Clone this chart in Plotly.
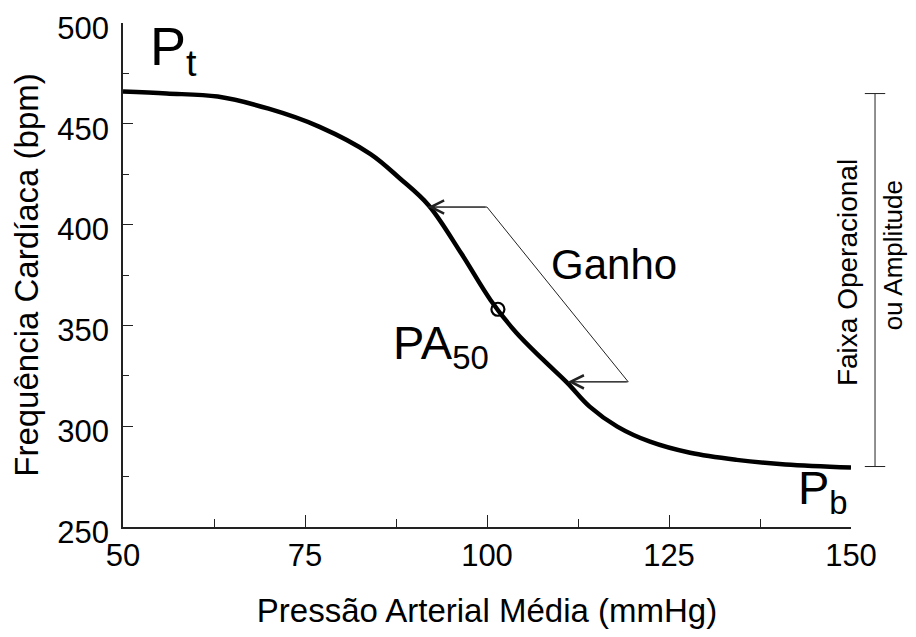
import plotly.graph_objects as go

# ---- data ----
pressure = [50, 56, 63, 70, 77, 84, 88, 92, 96.5, 100.5, 104, 107.7, 111, 114.1, 117.9, 122.4, 127.9, 134.3, 141, 150]
heart_rate = [466, 465, 463.5, 457.5, 448.5, 435, 423, 409.5, 385.5, 362.5, 346.5, 333, 321.6, 309.7, 299.8, 292.3, 286.8, 283.3, 281, 279.5]

pa50_x = [101.5]
pa50_y = [358]

# gain indicator path (arrow tip top -> corner -> corner -> arrow tip bottom)
gain_x = [91.9, 100.0, 119.4, 111.1]
gain_y = [408.7, 408.7, 322.0, 322.0]

# operational range bar
range_x = 153.3
range_y = [280, 465]

x_ticks = [50, 75, 100, 125, 150]
y_ticks = [250, 300, 350, 400, 450, 500]
x_range = [50, 150]
y_range = [250, 500]

FONT = "Liberation Sans, Arial, Helvetica, sans-serif"


def xp(v):
    return (v - x_range[0]) / (x_range[1] - x_range[0])


fig = go.Figure()

fig.add_trace(go.Scatter(
    x=pressure, y=heart_rate, mode="lines",
    line=dict(color="black", width=4.5, shape="spline", smoothing=1.0),
    hoverinfo="skip", showlegend=False))

fig.add_trace(go.Scatter(
    x=gain_x, y=gain_y, mode="lines",
    line=dict(color="#222222", width=1),
    hoverinfo="skip", showlegend=False))

fig.add_trace(go.Scatter(
    x=pa50_x, y=pa50_y, mode="markers",
    marker=dict(symbol="circle-open", size=13, color="black", line=dict(width=2.2)),
    hoverinfo="skip", showlegend=False))

annotations = []
# arrowheads of the gain indicator
for tip_i, base_i in ((0, 1), (3, 2)):
    annotations.append(dict(
        x=gain_x[tip_i], y=gain_y[tip_i], xref="x", yref="y",
        ax=gain_x[base_i], ay=gain_y[base_i], axref="x", ayref="y",
        text="", showarrow=True, arrowhead=5, arrowsize=2.6, arrowwidth=1,
        arrowcolor="#222222"))

annotations += [
    dict(x=53.5, y=500, xref="x", yref="y", xanchor="left", yanchor="top", yshift=9,
         text="P<sub>t</sub>", showarrow=False,
         font=dict(family=FONT, size=54, color="black")),
    dict(x=142.4, y=268, xref="x", yref="y", xanchor="left", yanchor="middle",
         text="P<sub>b</sub>", showarrow=False,
         font=dict(family=FONT, size=47, color="black")),
    dict(x=86.8, y=340, xref="x", yref="y", xanchor="left", yanchor="middle",
         text="PA<sub>50</sub>", showarrow=False,
         font=dict(family=FONT, size=47, color="black")),
    dict(x=117.4, y=380, xref="x", yref="y", xanchor="center", yanchor="middle",
         text="Ganho", showarrow=False,
         font=dict(family=FONT, size=42, color="black")),
    dict(x=xp(149.6), y=376, xref="paper", yref="y", xanchor="center", yanchor="middle",
         text="Faixa Operacional", textangle=-90, showarrow=False,
         font=dict(family=FONT, size=28, color="black")),
    dict(x=1.057, y=385, xref="paper", yref="y", xanchor="center", yanchor="middle",
         text="ou Amplitude", textangle=-90, showarrow=False,
         font=dict(family=FONT, size=26, color="black")),
]

cap = 1.4
shapes = [
    dict(type="line", xref="paper", yref="y", x0=xp(range_x), x1=xp(range_x),
         y0=range_y[0], y1=range_y[1], line=dict(color="#222222", width=1)),
    dict(type="line", xref="paper", yref="y", x0=xp(range_x - cap), x1=xp(range_x + cap),
         y0=range_y[0], y1=range_y[0], line=dict(color="#222222", width=1)),
    dict(type="line", xref="paper", yref="y", x0=xp(range_x - cap), x1=xp(range_x + cap),
         y0=range_y[1], y1=range_y[1], line=dict(color="#222222", width=1)),
]

# the page body adds an 8px margin around the figure, so the figure is
# 16px smaller than the window and its margins are offset accordingly
fig.update_layout(
    width=900, height=621,
    margin=dict(l=115, r=57, t=15, b=102, autoexpand=False),
    paper_bgcolor="white", plot_bgcolor="white",
    font=dict(family=FONT, color="black"),
    annotations=annotations, shapes=shapes,
    showlegend=False,
)

fig.update_xaxes(
    range=x_range, tickmode="array", tickvals=x_ticks,
    ticks="inside", ticklen=12, tickwidth=1.2, tickcolor="#222",
    minor=dict(dtick=12.5, ticks="inside", ticklen=8, tickwidth=1.2, tickcolor="#222"),
    showline=True, linecolor="#222", linewidth=1.5, mirror=False,
    showgrid=False, zeroline=False, automargin=False, ticklabeloverflow="allow",
    tickfont=dict(family=FONT, size=31, color="black"),
    title=dict(text="Pressão Arterial Média (mmHg)", standoff=30,
               font=dict(family=FONT, size=33, color="black")),
)
fig.update_yaxes(
    range=y_range, tickmode="array", tickvals=y_ticks,
    ticks="inside", ticklen=10, tickwidth=1.2, tickcolor="#222",
    minor=dict(dtick=25, ticks="inside", ticklen=6, tickwidth=1.2, tickcolor="#222"),
    showline=True, linecolor="#222", linewidth=1.5, mirror=False,
    showgrid=False, zeroline=False, automargin=False, ticklabeloverflow="allow",
    ticklabelstandoff=6, ticklabelshift=5,
    tickfont=dict(family=FONT, size=31, color="black"),
    title=dict(text="Frequência Cardíaca (bpm)", standoff=11,
               font=dict(family=FONT, size=33, color="black")),
)

fig.write_html("out.html")
